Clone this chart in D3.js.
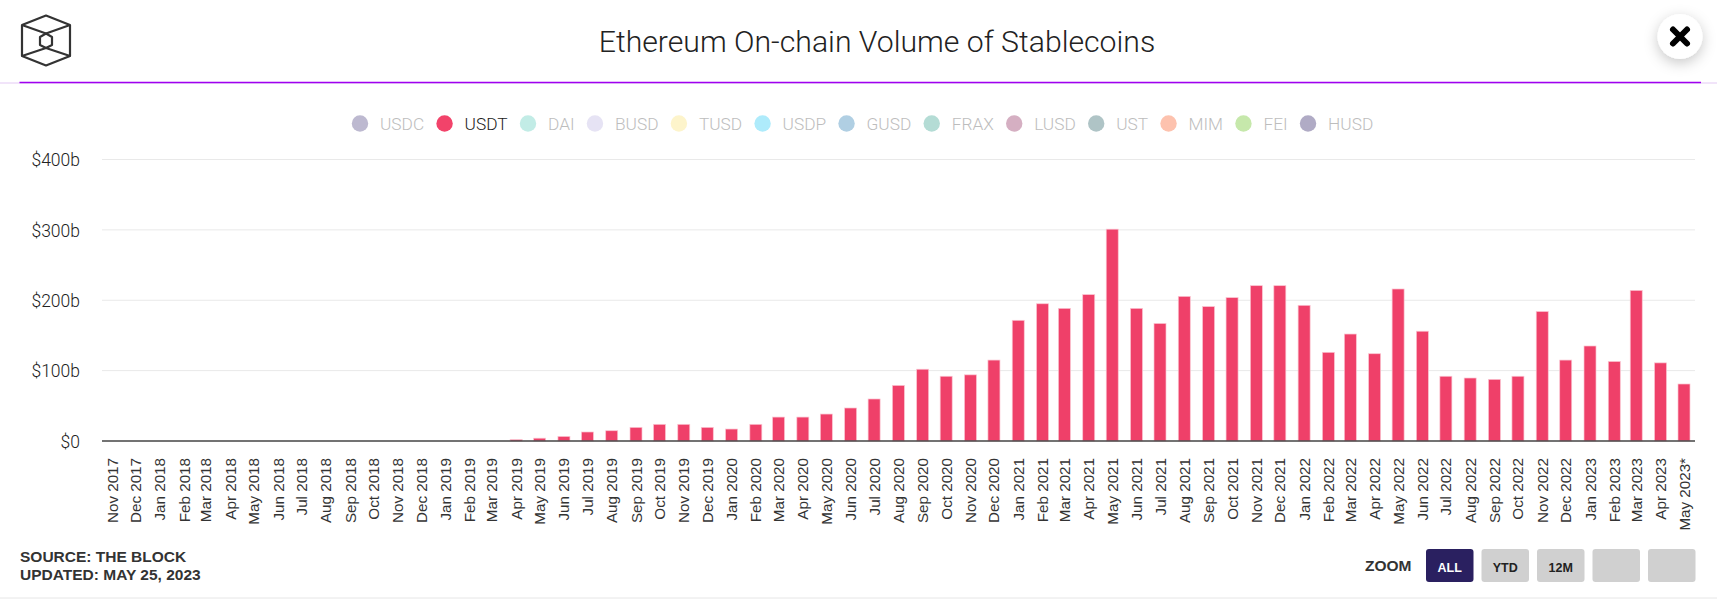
<!DOCTYPE html>
<html><head><meta charset="utf-8">
<script src="https://cdn.jsdelivr.net/npm/d3@7/dist/d3.min.js"></script>
<style>
html,body{margin:0;padding:0;background:#fff;overflow:hidden}
svg{display:block}
</style></head><body>
<svg id="c" width="1717" height="599"></svg>
<script>
const title = "Ethereum On-chain Volume of Stablecoins";
const categories = ["Nov 2017","Dec 2017","Jan 2018","Feb 2018","Mar 2018","Apr 2018","May 2018","Jun 2018","Jul 2018","Aug 2018","Sep 2018","Oct 2018","Nov 2018","Dec 2018","Jan 2019","Feb 2019","Mar 2019","Apr 2019","May 2019","Jun 2019","Jul 2019","Aug 2019","Sep 2019","Oct 2019","Nov 2019","Dec 2019","Jan 2020","Feb 2020","Mar 2020","Apr 2020","May 2020","Jun 2020","Jul 2020","Aug 2020","Sep 2020","Oct 2020","Nov 2020","Dec 2020","Jan 2021","Feb 2021","Mar 2021","Apr 2021","May 2021","Jun 2021","Jul 2021","Aug 2021","Sep 2021","Oct 2021","Nov 2021","Dec 2021","Jan 2022","Feb 2022","Mar 2022","Apr 2022","May 2022","Jun 2022","Jul 2022","Aug 2022","Sep 2022","Oct 2022","Nov 2022","Dec 2022","Jan 2023","Feb 2023","Mar 2023","Apr 2023","May 2023*"];
const usdt = [0,0,0,0,0,0,0,0,0,0,0,0,0,0,0,0,0,2,4,6.5,12.8,14.6,19.4,23.7,23.7,19.4,17,23.7,34,34,38.3,46.9,59.7,79,102,92,94,115,171.5,195,188.5,208,301,188.5,167,205.5,191,203.7,220.7,220.7,192.8,126,152,124,216,156,92,89.5,87.6,92,184,115,135,113,214,111,81];
const legendNames = ["USDC","USDT","DAI","BUSD","TUSD","USDP","GUSD","FRAX","LUSD","UST","MIM","FEI","HUSD"];
const legendColors = ["#bdb9d0","#f2436a","#c2ece6","#e6e3f4","#fdf4cb","#aeebfb","#b0cfe3","#b4dcd5","#d5afc2","#afc4c6","#fdc2ae","#c6e8ab","#b0abc5"];
const activeSeries = "USDT";
const yTicks = [0,100,200,300,400];
const yTickLabels = ["$0","$100b","$200b","$300b","$400b"];
const zoomButtons = ["ALL","YTD","12M","",""];
const sourceLines = ["SOURCE: THE BLOCK","UPDATED: MAY 25, 2023"];

const svg = d3.select("#c");
const parseMonth = d3.utcParse("%b %Y");
const dates = categories.map(c => parseMonth(c.replace("*","")));
const x = d3.scaleUtc().domain([dates[0], dates[dates.length-1]]).range([112,1684]);
const y = d3.scaleLinear().domain([0,400]).range([441,159.5]);
const sans = "Roboto, sans-serif", arial = "'Liberation Sans', Arial, sans-serif";

// header
svg.append("text").attr("x",877).attr("y",52).attr("text-anchor","middle")
  .attr("font-family",sans).attr("font-weight",300).attr("font-size",30.2).attr("fill","#222").text(title);
svg.append("line").attr("x1",0).attr("x2",1717).attr("y1",83).attr("y2",83).attr("stroke","#e3c9f4").attr("stroke-width",1);
svg.append("line").attr("x1",19.5).attr("x2",1701).attr("y1",82.5).attr("y2",82.5).attr("stroke","#a000f0").attr("stroke-width",1.6);

// logo
const logo = svg.append("g").attr("fill","none").attr("stroke","#333").attr("stroke-width",2.2).attr("stroke-linejoin","round");
logo.append("path").attr("d","M46 15.5L70 25V56L46 65.5L22 56V25Z");
logo.append("path").attr("d","M46 33.5L52 37V45L46 48L40 45V37Z");
logo.append("path").attr("d","M22 25L46 33.5L70 25M22 56L46 48L70 56");

// close button
const defs = svg.append("defs");
const f = defs.append("filter").attr("id","sh").attr("x","-60%").attr("y","-60%").attr("width","220%").attr("height","220%");
f.append("feDropShadow").attr("dx",0).attr("dy",4).attr("stdDeviation",7).attr("flood-color","#000").attr("flood-opacity",0.22);
svg.append("circle").attr("cx",1680).attr("cy",36.5).attr("r",22.5).attr("fill","#fff").attr("filter","url(#sh)");
svg.append("path").attr("d","M1673 29.5L1687 43.5M1687 29.5L1673 43.5").attr("stroke","#000").attr("stroke-width",6).attr("stroke-linecap","round");

// legend (flow layout)
let lx = 352;
legendNames.forEach((n,i) => {
  svg.append("circle").attr("cx",lx+8).attr("cy",123.5).attr("r",8.2).attr("fill",legendColors[i]);
  const t = svg.append("text").attr("x",lx+28).attr("y",130).attr("font-family",sans).attr("font-weight",300)
    .attr("font-size",17.3).attr("fill",n===activeSeries?"#222":"#bdbdbd").text(n);
  lx += 28 + t.node().getComputedTextLength() + 12.4;
});

// y axis + grid
const yAxis = d3.axisLeft(y).tickValues(yTicks).tickFormat((d,i)=>yTickLabels[i]).tickSize(0).tickPadding(0);
const yG = svg.append("g").attr("transform","translate(80,0)").call(yAxis);
yG.select(".domain").remove();
yG.selectAll("text").attr("font-family",sans).attr("font-weight",300).attr("font-size",17.5).attr("fill","#222").attr("dy","0.36em");
svg.append("g").selectAll("line").data(yTicks.filter(d=>d>0)).join("line")
  .attr("x1",102).attr("x2",1695).attr("y1",d=>y(d)).attr("y2",d=>y(d)).attr("stroke","#e9e9e9").attr("stroke-width",1);

// bars
const bw = 12;
svg.append("g").selectAll("rect").data(usdt.map((v,i)=>({v,d:dates[i]})).filter(o=>o.v>0)).join("rect")
  .attr("x",o=>x(o.d)-bw/2).attr("width",bw).attr("y",o=>y(o.v)).attr("height",o=>y(0)-y(o.v))
  .attr("fill","#ef4069").attr("stroke","#fbc4d1").attr("stroke-width",0.7);

// x axis
const xAxis = d3.axisBottom(x).tickValues(dates).tickFormat((d,i)=>categories[i]).tickSize(0).tickPadding(0);
const xG = svg.append("g").attr("transform","translate(0,441)").call(xAxis);
xG.select(".domain").remove();
xG.selectAll("text").attr("font-family",arial).attr("font-size",15.2).attr("fill","#333")
  .attr("text-anchor","end").attr("transform","translate(5,17) rotate(-90)").attr("x",0).attr("y",0).attr("dy",0);
svg.append("line").attr("x1",102).attr("x2",1695).attr("y1",441).attr("y2",441).attr("stroke","#444").attr("stroke-width",1.5);

// footer
sourceLines.forEach((s,i)=>svg.append("text").attr("x",20).attr("y",[562,580][i]).attr("font-family",arial).attr("font-weight",700).attr("font-size",15.5).attr("fill","#333").text(s));
svg.append("text").attr("x",1365).attr("y",571).attr("font-family",arial).attr("font-weight",700).attr("font-size",15.5).attr("fill","#333").text("ZOOM");
const bx = d3.scalePoint().domain(d3.range(zoomButtons.length)).range([1426,1648]);
zoomButtons.forEach((b,i)=>{
  svg.append("rect").attr("x",bx(i)).attr("y",549).attr("width",47.5).attr("height",33).attr("rx",3)
    .attr("fill",i===0?"#2a2060":"#d0d0d0");
  if(b) svg.append("text").attr("x",bx(i)+23.7).attr("y",572).attr("text-anchor","middle").attr("font-family",arial).attr("font-weight",700)
    .attr("font-size",12.5).attr("fill",i===0?"#fff":"#222").text(b);
});
svg.append("line").attr("x1",0).attr("x2",1717).attr("y1",598).attr("y2",598).attr("stroke","#e6e6e6").attr("stroke-width",1);
</script></body></html>
